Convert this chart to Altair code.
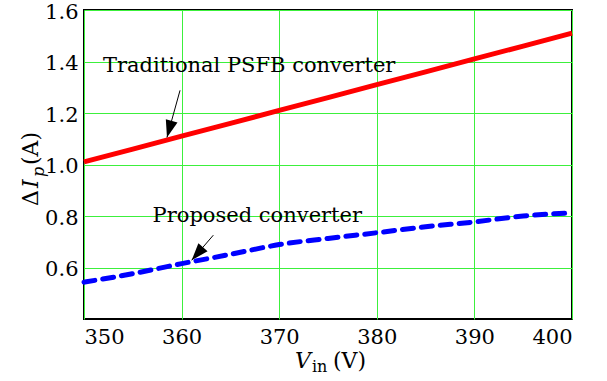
import altair as alt
import pandas as pd

# Data
vin = [350, 355, 360, 365, 370, 375, 380, 385, 390, 395, 400]
trad = [1.01, 1.06, 1.11, 1.16, 1.21, 1.26, 1.31, 1.36, 1.41, 1.46, 1.51]
prop = [0.543, 0.576, 0.615, 0.651, 0.689, 0.713, 0.735, 0.758, 0.777, 0.800, 0.812]

x_ticks = [350, 360, 370, 380, 390, 400]
y_ticks = [0.6, 0.8, 1.0, 1.2, 1.4, 1.6]

ann_text = ["Traditional PSFB converter", "Proposed converter"]
ann_x = [351.95, 357.03]
ann_y = [1.361, 0.777]

arrow_x0 = [359.84, 363.25]
arrow_y0 = [1.288, 0.7255]
arrow_x1 = [358.5, 361.03]
arrow_y1 = [1.105, 0.628]
arrow_angle = [195.8, 220.9]

FONT = "DejaVu Serif"
W, H = 488, 309
L, T = 84, 10

xs = alt.Scale(domain=[350, 400], nice=False)
ys = alt.Scale(domain=[0.4, 1.6], nice=False)

grid_color = "#3cf03c"

df_t = pd.DataFrame({"x": vin, "y": trad})
df_p = pd.DataFrame({"x": vin, "y": prop})
df_a = pd.DataFrame({"t": ann_text, "x": ann_x, "y": ann_y})
df_r = pd.DataFrame({"x0": arrow_x0, "y0": arrow_y0, "x1": arrow_x1, "y1": arrow_y1, "ang": arrow_angle})

xaxis = alt.Axis(values=x_ticks, grid=True, gridColor=grid_color, gridWidth=1, ticks=False,
                 domain=False, labelFont=FONT, labelFontSize=21, labelColor="black",
                 labelPadding=7, title=None, format="d")
yaxis = alt.Axis(values=y_ticks, grid=True, gridColor=grid_color, gridWidth=1, ticks=False,
                 domain=False, labelFont=FONT, labelFontSize=21, labelColor="black",
                 labelPadding=6, labelOffset=2, title=None, format=".1f")

base_axes = alt.Chart(df_t).mark_line(opacity=0).encode(
    x=alt.X("x:Q", scale=xs, axis=xaxis),
    y=alt.Y("y:Q", scale=ys, axis=yaxis),
)

red = alt.Chart(df_t).mark_line(color="#ff0000", strokeWidth=5).encode(
    x=alt.X("x:Q", scale=xs), y=alt.Y("y:Q", scale=ys))

blue = alt.Chart(df_p).mark_line(color="#0000ff", strokeWidth=5, strokeDash=[11, 8],
                                 strokeCap="round", interpolate="monotone").encode(
    x=alt.X("x:Q", scale=xs), y=alt.Y("y:Q", scale=ys))

rules = alt.Chart(df_r).mark_rule(color="black", strokeWidth=1).encode(
    x=alt.X("x0:Q", scale=xs), y=alt.Y("y0:Q", scale=ys),
    x2="x1:Q", y2="y1:Q")

heads = alt.Chart(df_r).mark_point(shape="M0,0L-0.7,2L0.7,2Z", filled=True, color="black",
                                   opacity=1, size=300).encode(
    x=alt.X("x1:Q", scale=xs), y=alt.Y("y1:Q", scale=ys),
    angle=alt.Angle("ang:Q", scale=None))

ann = alt.Chart(df_a).mark_text(font=FONT, fontSize=21, color="black", align="left",
                                baseline="alphabetic").encode(
    x=alt.X("x:Q", scale=xs), y=alt.Y("y:Q", scale=ys), text="t:N")

def txt(s, px, py, size=22, style="normal", angle=0):
    return alt.Chart(pd.DataFrame({"t": [s]})).mark_text(
        font=FONT, fontSize=size, fontStyle=style, color="black", align="left",
        baseline="alphabetic", angle=angle).encode(
        x=alt.value(px - L), y=alt.value(py - T), text="t:N")

titles = [
    txt("V", 295, 368, 22, "italic"),
    txt("in", 312, 372, 16),
    txt("(V)", 333, 368, 22),
    txt("Δ", 38, 206, 22, "normal", 270),
    txt("I", 38, 188, 22, "italic", 270),
    txt("p", 44, 177, 16, "italic", 270),
    txt("(A)", 38, 165, 22, "normal", 270),
]

chart = alt.layer(base_axes, red, blue, rules, heads, ann, *titles).properties(
    width=W, height=H,
    autosize=alt.AutoSizeParams(type="none"),
    padding={"left": L, "top": T, "right": 607 - L - W, "bottom": 381 - T - H},
).configure_view(stroke="black", strokeWidth=2)

chart.save("out.html", embed_options={"renderer": "svg", "actions": False})
